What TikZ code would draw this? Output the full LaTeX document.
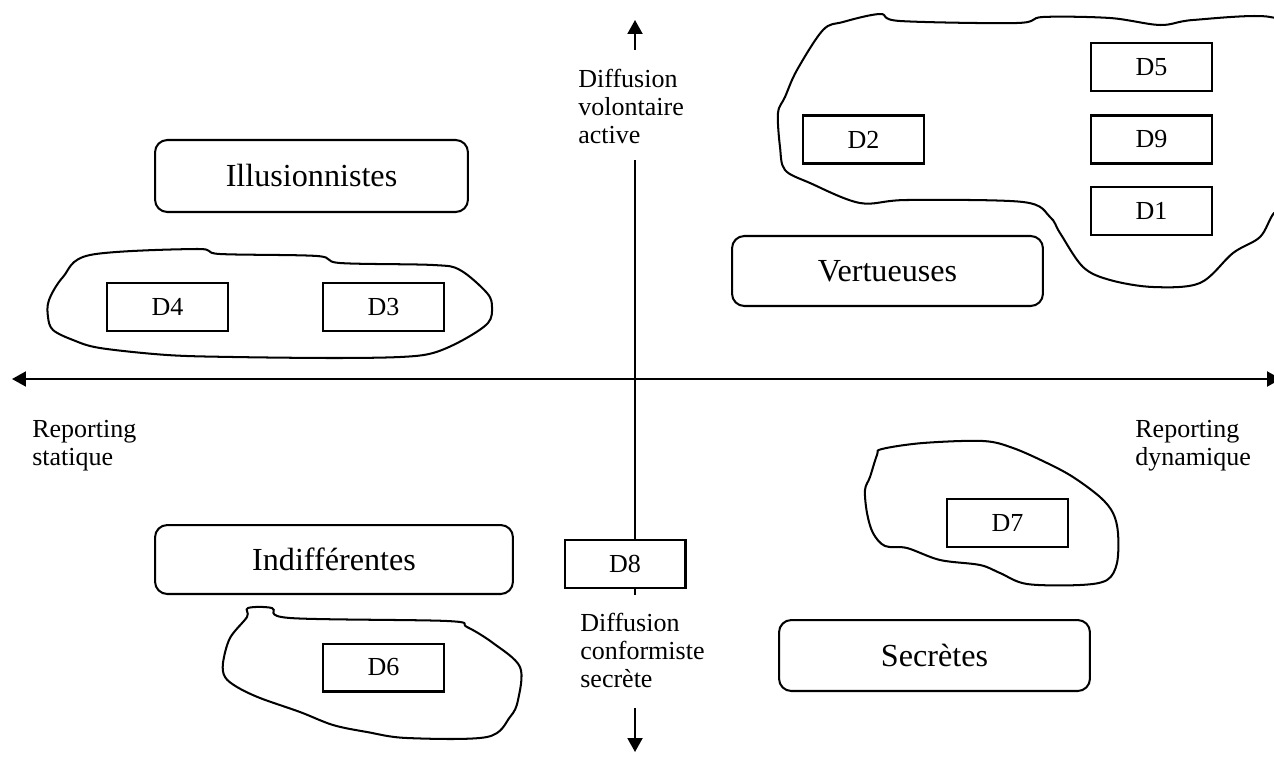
\documentclass[tikz,border=0pt]{standalone}
\usepackage{fontspec}
\setmainfont{Liberation Serif}
\usetikzlibrary{arrows.meta}
\tikzset{
  bigbox/.style={draw, line width=1.15pt, rounded corners=7pt, font=\fontsize{18.3}{22}\selectfont, inner sep=0pt},
  dbox/.style={draw, line width=1.15pt, minimum width=2.42cm, minimum height=0.96cm, inner sep=0pt, font=\fontsize{14.8}{16}\selectfont},
  lbl/.style={anchor=north west, inner sep=0pt, align=left, font=\fontsize{14.8}{15.9}\selectfont},
  axis/.style={line width=1.15pt, -{Triangle[width=0.3cm,length=0.28cm]}},
  blob/.style={line width=1.15pt, smooth cycle, tension=0.55}
}
\begin{document}
\begin{tikzpicture}[x=0.02cm,y=-0.02cm]
\useasboundingbox (0,0) rectangle (1274,757);
\clip (0,0) rectangle (1274,757);
\fill[white] (0,0) rectangle (1274,757);

% category boxes
\node[bigbox, minimum width=6.26cm, minimum height=1.44cm] (ill) at (311.5,176) {Illusionnistes};
\node[bigbox, minimum width=6.22cm, minimum height=1.40cm] (ver) at (887.5,271) {Vertueuses};
\node[bigbox, minimum width=7.16cm, minimum height=1.38cm] (ind) at (334,559.5) {Indifférentes};
\node[bigbox, minimum width=6.22cm, minimum height=1.42cm] (sec) at (934.5,655.5) {Secrètes};

% D boxes
\node[dbox] (d5) at (1151.5,67) {D5};
\node[dbox] (d9) at (1151.5,139.5) {D9};
\node[dbox] (d1) at (1151.5,211) {D1};
\node[dbox] (d2) at (863.5,139.5) {D2};
\node[dbox] (d4) at (167.5,307) {D4};
\node[dbox] (d3) at (383.5,307) {D3};
\node[dbox] (d8) at (625,564) {D8};
\node[dbox] (d6) at (383.5,667.5) {D6};
\node[dbox] (d7) at (1007.5,523) {D7};

% axis labels
\node[lbl] (dva) at (578,69) {Diffusion\\volontaire\\active};
\node[lbl] (dcs) at (580,613) {Diffusion\\conformiste\\secrète};
\node[lbl] (rs) at (32,420) {Reporting\\statique};
\node[lbl] (rd) at (1135,420) {Reporting\\dynamique};

% axes
\coordinate (hl) at (12,379);
\coordinate (hr) at (1281,379);
\coordinate (vt) at (635,20);
\coordinate (vt0) at (635,50);
\coordinate (va) at (635,160);
\coordinate (vb) at (635,595);
\coordinate (vc) at (635,708);
\coordinate (vd) at (635,752);
\draw[line width=1.15pt, {Triangle[width=0.3cm,length=0.28cm]}-{Triangle[width=0.3cm,length=0.28cm]}] (hl) -- (hr);
\draw[axis] (vt0) -- (vt);
\draw[line width=1.15pt] (va) -- (va |- d8.north);
\draw[line width=1.15pt] (vb |- d8.south) -- (vb);
\draw[axis] (vc) -- (vd);

% blobs
\draw[blob] plot coordinates {(843,22) (880,14) (900,21) (1017,23) (1043,17) (1110,18) (1160,25) (1193,20) (1270,17) (1290,40) (1292,200) (1274,213) (1260,237) (1233,253) (1200,283) (1153,287) (1110,280) (1083,267) (1060,233) (1050,217) (1023,202) (907,200) (860,203) (810,183) (785,170) (780,147) (778,113) (785,97) (797,70) (823,30)};

\draw[blob] plot coordinates {(90,255) (197,249) (220,254) (317,256) (340,263) (433,265) (460,270) (487,293) (492,307) (488,323) (463,340) (433,353) (400,357) (333,358) (233,357) (167,355) (100,348) (73,340) (53,330) (48,317) (49,300) (63,277)};

\draw[blob] plot coordinates {(248,608) (247,617) (230,638) (223,663) (225,677) (237,687) (260,698) (300,712) (333,725) (367,732) (407,738) (487,737) (510,717) (518,700) (520,667) (493,643) (467,627) (447,621) (290,618) (272,608)};

\draw[blob] plot coordinates {(882,449) (923,443) (983,441) (1013,448) (1047,463) (1073,477) (1100,497) (1113,513) (1118,533) (1117,563) (1107,580) (1080,585) (1027,584) (1000,573) (980,565) (940,560) (907,548) (885,546) (873,533) (867,513) (865,490) (870,477) (877,455)};
\end{tikzpicture}
\end{document}
